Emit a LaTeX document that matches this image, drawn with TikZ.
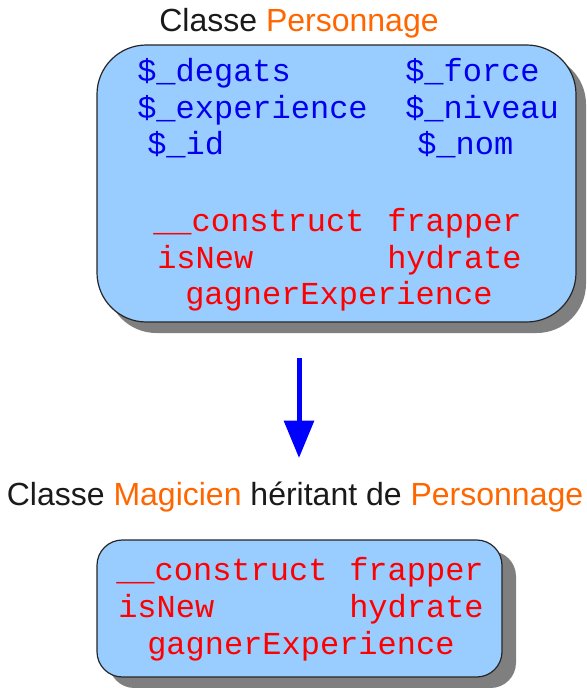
\documentclass[tikz,border=0pt]{standalone}
\usepackage{fontspec}
\setmainfont{Liberation Sans}
\setmonofont{Liberation Mono}
\usetikzlibrary{arrows.meta}

\definecolor{boxblue}{HTML}{99CCFF}
\definecolor{nameorange}{HTML}{FF6600}
\definecolor{attrblue}{HTML}{0000EE}
\definecolor{methred}{HTML}{FF0000}
\definecolor{shadowgray}{HTML}{7F7F7F}
\definecolor{titlegray}{HTML}{1A1A1A}

\tikzset{
	classbox/.style = {draw=black!85, line width=0.9pt, fill=boxblue},
	boxshadow/.style = {fill=shadowgray},
	attr/.style = {anchor=base west, inner sep=0pt, text=attrblue, font=\ttfamily\fontsize{24}{29}\selectfont},
	meth/.style = {attr, text=methred},
	classtitle/.style = {anchor=base, inner sep=0pt, text=titlegray, font=\fontsize{24}{29}\selectfont}
}

\begin{document}
\begin{tikzpicture}[x=0.75pt,y=-0.75pt]
				\useasboundingbox (0,0) rectangle (586,688);
				% classe mere
				\fill[boxshadow, rounded corners=37pt] (107,55) rectangle (586,333);
				\draw[classbox, rounded corners=37pt] (97,45) rectangle (576,322);
				\node[classtitle] (titreperso) at (299,32) {Classe \textcolor{nameorange}{Personnage}};
				\node[attr] (degats) at (137,82) {\$\_degats};
				\node[attr] (force) at (405,82) {\$\_force};
				\node[attr] (experience) at (137,118) {\$\_experience};
				\node[attr] (niveau) at (405,118) {\$\_niveau};
				\node[attr] (id) at (147,155) {\$\_id};
				\node[attr] (nom) at (417,155) {\$\_nom};
				\node[meth] (construct) at (153,231) {\_\_construct};
				\node[meth] (frapper) at (387,231) {frapper};
				\node[meth] (isnew) at (157,268) {isNew};
				\node[meth] (hydrate) at (387,268) {hydrate};
				\node[meth] (gagner) at (185,304) {gagnerExperience};
				% heritage
				\coordinate (herhaut) at (299,358);
				\coordinate (herbas) at (299,458);
				\draw[-{Triangle[length=28pt,width=22pt]}, line width=3.75pt, blue] (herhaut) -- (herbas);
				% classe fille
				\node[classtitle] (titremagi) at (295,505) {Classe \textcolor{nameorange}{Magicien} héritant de \textcolor{nameorange}{Personnage}};
				\fill[boxshadow, rounded corners=19pt] (109,551) rectangle (516,688);
				\draw[classbox, rounded corners=19pt] (97,540) rectangle (502,677);
				\node[meth] (mconstruct) at (116,580) {\_\_construct};
				\node[meth] (mfrapper) at (349,580) {frapper};
				\node[meth] (misnew) at (118,617) {isNew};
				\node[meth] (mhydrate) at (349,617) {hydrate};
				\node[meth] (mgagner) at (147,654) {gagnerExperience};
			\end{tikzpicture}
\end{document}
